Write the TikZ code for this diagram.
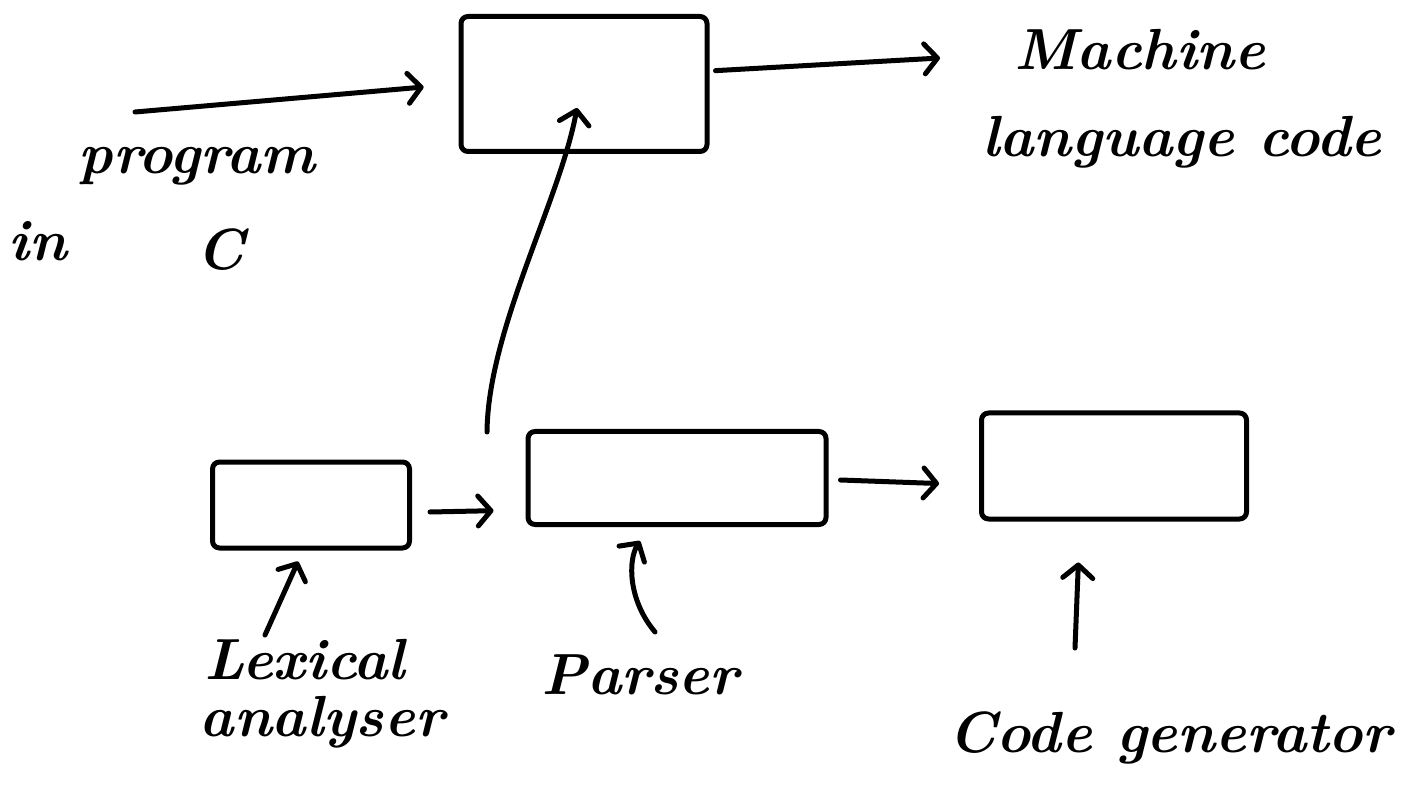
\documentclass[tikz,border=0pt]{standalone}
\usetikzlibrary{arrows.meta}
\begin{document}
\begin{tikzpicture}[x=1pt,y=-1pt,
  ink/.style={line width=5pt, line cap=round, line join=round},
  box/.style={ink, draw, rectangle, rounded corners=7pt, inner sep=0pt},
  arr/.style={ink, -{Straight Barb[length=13pt,width=30pt,round]}},
  lbl/.style={font=\fontsize{58}{64}\selectfont\bfseries\itshape, inner sep=0pt, anchor=center}]
\useasboundingbox (0,0) rectangle (1414,799);

% boxes
\node[box, minimum width=246pt, minimum height=135pt] (top) at (584,84) {};
\node[box, minimum width=197pt, minimum height=86pt] (lex) at (311,505) {};
\node[box, minimum width=298pt, minimum height=93pt] (par) at (677,478) {};
\node[box, minimum width=265pt, minimum height=106pt] (gen) at (1114,466) {};

% free ends
\coordinate (inS) at (135,112);
\coordinate (outE) at (940,58);
\coordinate (upS) at (487,432);
\coordinate (upE) at (577,108);
\coordinate (lexA) at (265,635);
\coordinate (parA) at (655,632);
\coordinate (genA) at (1075,648);

% connectors
\draw[arr, shorten >=35pt] (inS) -- (top.west);
\draw[arr, shorten <=6pt] ([yshift=13pt]top.east) -- (outE);
\draw[arr] (upS) .. controls (488,330) and (560,200) .. (upE);
\draw[arr, shorten >=32pt] (lex.east) ++(18,7) -- (par.west |- 0,510);
\draw[arr, shorten >=40pt] (par.east) ++(12,2) -- (gen.west |- 0,485);
\draw[arr, shorten >=12pt] (lexA) -- ([xshift=-8pt]lex.south);
\draw[arr] (parA) .. controls (628,600) and (628,560) .. ([xshift=-37pt,yshift=-14pt]par.south);
\draw[arr, shorten >=41pt] (genA) -- ([xshift=-34pt]gen.south);

% labels
\node[lbl] (prog) at (197,166) {program};
\node[lbl] (in) at (38,241) {in};
\node[lbl] (c) at (220,250) {C};
\node[lbl] (mach) at (1140,50) {Machine};
\node[lbl] (lang) at (1182,142) {language code};
\node[lbl] (lx1) at (305,660) {Lexical};
\node[lbl] (lx2) at (322,722) {analyser};
\node[lbl] (ps) at (640,675) {Parser};
\node[lbl] (cg) at (1170,738) {Code generator};
\end{tikzpicture}
\end{document}
